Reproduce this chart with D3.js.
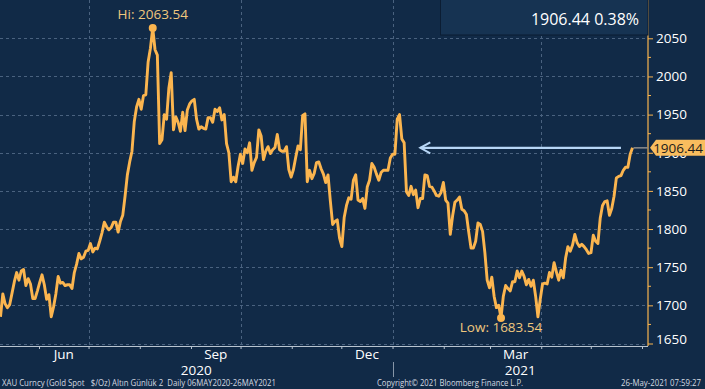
<!DOCTYPE html>
<html>
<head>
<meta charset="utf-8">
<script src="https://cdn.jsdelivr.net/npm/d3@7"></script>
<style>
  html, body { margin: 0; padding: 0; background: #112a47; }
  svg { display: block; font-family: "Open Sans", sans-serif; }
</style>
</head>
<body>
<svg id="chart" width="705" height="389"></svg>
<script>
// XAU spot, daily closes (trading days) 06 May 2020 - 26 May 2021
const dates = [
  '2020-05-06','2020-05-07','2020-05-08','2020-05-11','2020-05-12','2020-05-13','2020-05-14','2020-05-15','2020-05-18','2020-05-19','2020-05-20','2020-05-21','2020-05-22','2020-05-25','2020-05-26','2020-05-27','2020-05-28','2020-05-29',
  '2020-06-01','2020-06-02','2020-06-03','2020-06-04','2020-06-05','2020-06-08','2020-06-09','2020-06-10','2020-06-11','2020-06-12','2020-06-15','2020-06-16','2020-06-17','2020-06-18','2020-06-19','2020-06-22','2020-06-23','2020-06-24','2020-06-25','2020-06-26','2020-06-29','2020-06-30',
  '2020-07-01','2020-07-02','2020-07-03','2020-07-06','2020-07-07','2020-07-08','2020-07-09','2020-07-10','2020-07-13','2020-07-14','2020-07-15','2020-07-16','2020-07-17','2020-07-20','2020-07-21','2020-07-22','2020-07-23','2020-07-24','2020-07-27','2020-07-28','2020-07-29','2020-07-30','2020-07-31',
  '2020-08-03','2020-08-04','2020-08-05','2020-08-06','2020-08-07','2020-08-10','2020-08-11','2020-08-12','2020-08-13','2020-08-14','2020-08-17','2020-08-18','2020-08-19','2020-08-20','2020-08-21','2020-08-24','2020-08-25','2020-08-26','2020-08-27','2020-08-28','2020-08-31',
  '2020-09-01','2020-09-02','2020-09-03','2020-09-04','2020-09-07','2020-09-08','2020-09-09','2020-09-10','2020-09-11','2020-09-14','2020-09-15','2020-09-16','2020-09-17','2020-09-18','2020-09-21','2020-09-22','2020-09-23','2020-09-24','2020-09-25','2020-09-28','2020-09-29','2020-09-30',
  '2020-10-01','2020-10-02','2020-10-05','2020-10-06','2020-10-07','2020-10-08','2020-10-09','2020-10-12','2020-10-13','2020-10-14','2020-10-15','2020-10-16','2020-10-19','2020-10-20','2020-10-21','2020-10-22','2020-10-23','2020-10-26','2020-10-27','2020-10-28','2020-10-29','2020-10-30',
  '2020-11-02','2020-11-03','2020-11-04','2020-11-05','2020-11-06','2020-11-09','2020-11-10','2020-11-11','2020-11-12','2020-11-13','2020-11-16','2020-11-17','2020-11-18','2020-11-19','2020-11-20','2020-11-23','2020-11-24','2020-11-25','2020-11-26','2020-11-27','2020-11-30',
  '2020-12-01','2020-12-02','2020-12-03','2020-12-04','2020-12-07','2020-12-08','2020-12-09','2020-12-10','2020-12-11','2020-12-14','2020-12-15','2020-12-16','2020-12-17','2020-12-18','2020-12-21','2020-12-22','2020-12-23','2020-12-24','2020-12-28','2020-12-29','2020-12-30','2020-12-31',
  '2021-01-01','2021-01-04','2021-01-05','2021-01-06','2021-01-07','2021-01-08','2021-01-11','2021-01-12','2021-01-13','2021-01-14','2021-01-15','2021-01-18','2021-01-19','2021-01-20','2021-01-21','2021-01-22','2021-01-25','2021-01-26','2021-01-27','2021-01-28','2021-01-29',
  '2021-02-01','2021-02-02','2021-02-03','2021-02-04','2021-02-05','2021-02-08','2021-02-09','2021-02-10','2021-02-11','2021-02-12','2021-02-15','2021-02-16','2021-02-17','2021-02-18','2021-02-19','2021-02-22','2021-02-23','2021-02-24','2021-02-25','2021-02-26',
  '2021-03-01','2021-03-02','2021-03-03','2021-03-04','2021-03-05','2021-03-08','2021-03-09','2021-03-10','2021-03-11','2021-03-12','2021-03-15','2021-03-16','2021-03-17','2021-03-18','2021-03-19','2021-03-22','2021-03-23','2021-03-24','2021-03-25','2021-03-26','2021-03-29','2021-03-30','2021-03-31',
  '2021-04-01','2021-04-02','2021-04-05','2021-04-06','2021-04-07','2021-04-08','2021-04-09','2021-04-12','2021-04-13','2021-04-14','2021-04-15','2021-04-16','2021-04-19','2021-04-20','2021-04-21','2021-04-22','2021-04-23','2021-04-26','2021-04-27','2021-04-28','2021-04-29','2021-04-30',
  '2021-05-03','2021-05-04','2021-05-05','2021-05-06','2021-05-07','2021-05-10','2021-05-11','2021-05-12','2021-05-13','2021-05-14','2021-05-17','2021-05-18','2021-05-19','2021-05-20','2021-05-21','2021-05-24','2021-05-25','2021-05-26'
];

const prices = [
  1685,1715,1702,1697,1701,1716,1731,1743,1733,1745,1747,1726,1735,1728,1709,1709,1719,1730,
  1740,1727,1708,1714,1685,1698,1715,1738,1729,1730,1726,1727,1727,1722,1743,1754,1768,1761,1763,1771,1772,1781,
  1770,1775,1774,1784,1795,1809,1803,1799,1802,1809,1809,1796,1810,1818,1843,1871,1888,1902,1941,1960,1970,1957,1975,
  1976,2019,2037,2063.54,2035,2028,1912,1917,1950,1944,1985,2005,1930,1947,1940,1928,1953,1929,1956,1964,1968,
  1970,1944,1931,1934,1932,1931,1946,1946,1940,1957,1954,1959,1943,1950,1912,1900,1862,1868,1862,1882,1898,1886,
  1905,1900,1913,1877,1887,1894,1930,1922,1891,1902,1908,1899,1904,1907,1924,1904,1902,1902,1908,1878,1868,1878,
  1894,1909,1904,1949,1951,1862,1877,1866,1873,1887,1888,1879,1872,1861,1871,1837,1806,1810,1812,1788,1777,
  1815,1831,1841,1839,1864,1871,1838,1836,1840,1827,1855,1864,1886,1881,1872,1864,1874,1877,1877,1877,1893,1898,
  1898,1944,1950,1918,1913,1849,1844,1856,1845,1851,1828,1840,1840,1871,1870,1856,1855,1850,1844,1843,1848,
  1861,1838,1834,1793,1817,1835,1838,1842,1826,1824,1819,1796,1775,1775,1784,1808,1806,1797,1769,1733,
  1723,1737,1712,1697,1700,1683.54,1712,1726,1722,1719,1731,1731,1745,1736,1745,1738,1727,1734,1725,1733,1712,1685,1708,
  1728,1729,1728,1743,1737,1756,1744,1733,1746,1736,1762,1777,1771,1779,1793,1782,1777,1780,1777,1773,1768,1769,
  1792,1784,1781,1814,1831,1836,1837,1818,1827,1843,1867,1869,1870,1877,1881,1881,1898,1906.44
];

const yTicks = [1650, 1700, 1750, 1800, 1850, 1900, 1950, 2000, 2050];
const yMinorTicks = [1675, 1725, 1775, 1825, 1875, 1925, 1975, 2025];
const monthLabels = ['Jun', 'Sep', 'Dec', 'Mar'];
const monthLabelStarts = ['2020-06-01', '2020-09-01', '2020-12-01', '2021-03-01'];
const gridMonths = ['2020-07-01', '2020-10-01', '2021-01-01', '2021-04-01'];
const yearLabels = ['2020', '2021'];
const lastChange = '0.38%';
const arrowSpan = ['2021-05-19', '2021-01-18'];   // tail, head
const footer = [
  'XAU Curncy (Gold Spot   $/Oz) Altın Günlük 2  Daily 06MAY2020-26MAY2021',
  'Copyright\u00A9 2021 Bloomberg Finance L.P.',
  '26-May-2021 07:59:27'
];

const W = 705, H = 389;
const plotR = 648, plotB = 346;
const gold = '#fbb54f';
const parse = d3.timeParse('%Y-%m-%d');

const svg = d3.select('#chart');
svg.append('rect').attr('width', W).attr('height', H).attr('fill', '#112a47');

// scales: line by trading day, axis by calendar
const x = d3.scalePoint().domain(dates).range([0.5, 632.5]);
const xt = d3.scaleTime().domain([parse('2020-06-01'), parse('2021-06-01')]).range([39, 642]);
const y = d3.scaleLinear().domain([1650, 2050]).range([343.5, 38.3]);

// grid
const grid = svg.append('g').attr('stroke', '#5d7592').attr('stroke-dasharray', '3,3').attr('stroke-width', 1).attr('opacity', 0.75);
grid.selectAll('line.h').data(yTicks).enter().append('line')
  .attr('x1', 0).attr('x2', plotR).attr('y1', d => Math.round(y(d)) + 0.5).attr('y2', d => Math.round(y(d)) + 0.5);
grid.selectAll('line.v').data(gridMonths).enter().append('line')
  .attr('x1', d => Math.round(xt(parse(d))) + 0.5).attr('x2', d => Math.round(xt(parse(d))) + 0.5)
  .attr('y1', 0).attr('y2', plotB);

// bottom axis
const xAxis = d3.axisBottom(xt).ticks(d3.timeMonth.every(1)).tickSize(3).tickFormat('');
const gx = svg.append('g').attr('transform', `translate(0,${plotB})`).call(xAxis);
gx.select('.domain').remove();
gx.selectAll('line').attr('stroke', '#b9c4d0');
svg.append('line').attr('x1', 0).attr('x2', plotR).attr('y1', plotB + 0.5).attr('y2', plotB + 0.5)
  .attr('stroke', '#b9c4d0').attr('stroke-width', 1);

svg.selectAll('text.month').data(monthLabels).enter().append('text')
  .attr('x', (d, i) => {
    const s = parse(monthLabelStarts[i]);
    return (xt(s) + xt(d3.timeMonth.offset(s, 1))) / 2;
  })
  .attr('y', 359).attr('text-anchor', 'middle').attr('fill', '#ffffff').attr('font-size', 13.5).text(d => d);

const yearBreak = xt(parse('2021-01-01'));
const yearCenters = [yearBreak / 2, (yearBreak + plotR) / 2];
svg.selectAll('text.year').data(yearLabels).enter().append('text')
  .attr('x', (d, i) => yearCenters[i]).attr('y', 374.5).attr('text-anchor', 'middle')
  .attr('fill', '#ffffff').attr('font-size', 13.5).text(d => d);
svg.append('line').attr('x1', Math.round(yearBreak) + 0.5).attr('x2', Math.round(yearBreak) + 0.5)
  .attr('y1', 362).attr('y2', 377).attr('stroke', '#8796a8').attr('stroke-width', 1);

// right axis
const gy = svg.append('g').attr('transform', `translate(${plotR},0)`)
  .call(d3.axisRight(y).tickValues(yTicks).tickSize(5).tickPadding(3).tickFormat(d3.format('d')));
gy.select('.domain').attr('d', `M0,0V${plotB}`).attr('stroke', gold).attr('stroke-width', 1.2);
gy.selectAll('line').attr('stroke', gold);
gy.selectAll('text').attr('fill', '#ffffff').attr('font-size', 13.5)
  .attr('font-family', '"Open Sans", sans-serif')
  .attr('dy', d => d === 1650 ? '-0.02em' : '0.32em');
svg.append('g').attr('transform', `translate(${plotR},0)`).selectAll('line').data(yMinorTicks).enter().append('line')
  .attr('x1', 0).attr('x2', 3).attr('y1', d => y(d)).attr('y2', d => y(d)).attr('stroke', gold);

// price line
svg.append('clipPath').attr('id', 'clip').append('rect').attr('width', plotR).attr('height', plotB);
const line = d3.line().x((d, i) => x(dates[i])).y(d => y(d)).curve(d3.curveLinear);
svg.append('path').datum(prices).attr('clip-path', 'url(#clip)')
  .attr('d', line).attr('fill', 'none').attr('stroke', gold)
  .attr('stroke-width', 2.9).attr('stroke-linejoin', 'round');

// hi / low markers
const hiIdx = d3.maxIndex(prices), loIdx = d3.minIndex(prices);
const fmt = d3.format('.2f');
[[hiIdx, 'Hi: ', -9], [loIdx, 'Low: ', 14]].forEach(([i, lab, dy]) => {
  svg.append('circle').attr('cx', x(dates[i])).attr('cy', y(prices[i])).attr('r', 4).attr('fill', gold);
  svg.append('text').attr('x', x(dates[i])).attr('y', y(prices[i]) + dy).attr('text-anchor', 'middle')
    .attr('fill', '#efc77e').attr('font-size', 13.5).text(lab + fmt(prices[i]));
});

// arrow to last value
const lastIdx = prices.length - 1;
const last = prices[lastIdx];
const ay = y(last);
const ax0 = x(arrowSpan[0]), ax1 = x(arrowSpan[1]);
svg.append('line').attr('x1', ax0).attr('x2', ax1).attr('y1', ay).attr('y2', ay)
  .attr('stroke', '#b7d6f6').attr('stroke-width', 2.2);
svg.append('path').attr('d', `M${ax1 + 10},${ay - 5.5}L${ax1},${ay}L${ax1 + 10},${ay + 5.5}`)
  .attr('fill', 'none').attr('stroke', '#b7d6f6').attr('stroke-width', 2);

// last value leader + badge (sits over the 1900 label, as in the original)
svg.append('line').attr('x1', x(dates[lastIdx]) + 1).attr('x2', plotR).attr('y1', ay).attr('y2', ay)
  .attr('stroke', '#8c8c8c').attr('stroke-width', 1.5);
svg.append('path')
  .attr('d', `M${plotR + 2},${ay}L${plotR + 8},${ay - 8}H${W}V${ay + 8}H${plotR + 8}Z`)
  .attr('fill', '#f9bd5e');
svg.append('text').attr('x', W - 2).attr('y', ay + 5).attr('text-anchor', 'end')
  .attr('fill', '#1b1b1b').attr('font-size', 13.5).text(fmt(last));

// header box
svg.append('rect').attr('x', 440.5).attr('y', -1).attr('width', plotR - 440.5).attr('height', 36)
  .attr('fill', '#163352').attr('stroke', '#0b1d33').attr('stroke-width', 1);
svg.append('text').attr('x', 639).attr('y', 25).attr('text-anchor', 'end')
  .attr('fill', '#ffffff').attr('font-size', 16).text(`${fmt(last)} ${lastChange}`);

// footer
const fy = 386;
svg.append('text').attr('x', 2).attr('y', fy).attr('fill', '#d3d9e0').attr('font-size', 9)
  .attr('textLength', 274).attr('lengthAdjust', 'spacingAndGlyphs').attr('xml:space', 'preserve').text(footer[0]);
svg.append('text').attr('x', 450).attr('y', fy).attr('text-anchor', 'middle').attr('fill', '#d3d9e0').attr('font-size', 9)
  .attr('textLength', 146).attr('lengthAdjust', 'spacingAndGlyphs').text(footer[1]);
svg.append('text').attr('x', 701).attr('y', fy).attr('text-anchor', 'end').attr('fill', '#d3d9e0').attr('font-size', 9)
  .attr('textLength', 80).attr('lengthAdjust', 'spacingAndGlyphs').text(footer[2]);
</script>
</body>
</html>
